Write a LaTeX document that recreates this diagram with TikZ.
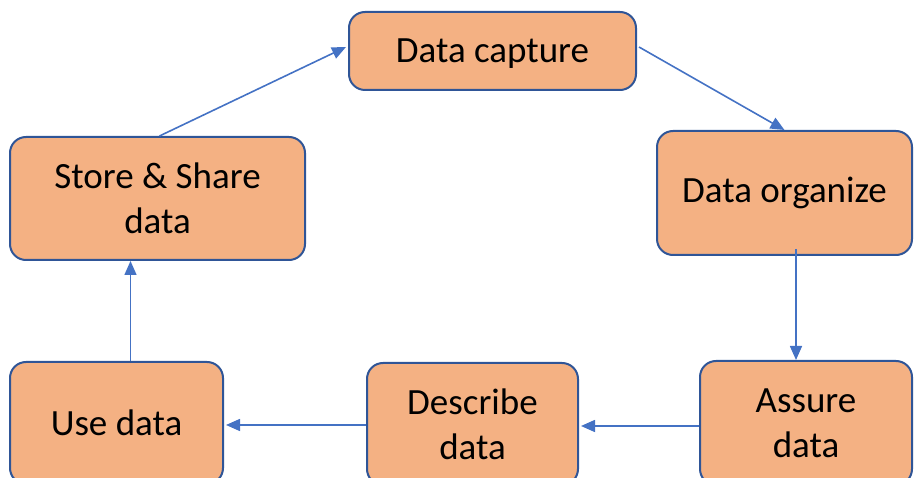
\documentclass[tikz,border=0pt]{standalone}
\usepackage{fontspec}
\setmainfont{Carlito}
\usetikzlibrary{arrows.meta}
\definecolor{boxfill}{HTML}{F4B183}
\definecolor{boxline}{HTML}{2F5597}
\definecolor{flow}{HTML}{4472C4}
\tikzset{
  stage/.style={draw=boxline, line width=2pt, fill=boxfill, rounded corners=16pt,
    inner sep=0pt, align=center, text=black,
    font=\fontsize{37}{45}\selectfont},
  flowarrow/.style={draw=flow, line width=1.6pt,
    -{Triangle[length=14pt,width=12pt]}}
}
\begin{document}
\begin{tikzpicture}[x=1pt,y=-1pt]
\useasboundingbox (0,0) rectangle (914,478);
\clip (0,0) rectangle (914,478);
% process stages
\node[stage, minimum width=287pt, minimum height=78pt, text depth=0pt] (capture) at (492.5,51) {Data capture};
\node[stage, minimum width=255pt, minimum height=124pt] (organize) at (784.5,193) {Data organize};
\node[stage, minimum width=212pt, minimum height=124pt] (assure) at (806,423) {Assure\\data};
\node[stage, minimum width=211pt, minimum height=122pt] (describe) at (472.5,424) {Describe\\data};
\node[stage, minimum width=213pt, minimum height=122pt] (use) at (116.5,423) {Use data};
\node[stage, minimum width=295pt, minimum height=123pt] (store) at (157.5,198.5) {Store \& Share\\data};
% connectors
\draw[flowarrow] ([xshift=2pt]store.north) -- ([yshift=4pt,xshift=-2pt]capture.west);
\draw[flowarrow] ([yshift=4pt,xshift=2pt]capture.east) -- (organize.north);
\coordinate (orgout) at ([xshift=11.5pt,yshift=7pt]organize.south);
\draw[flowarrow] (orgout) -- (orgout |- assure.north);
\coordinate (assout) at ([yshift=-3pt]assure.west);
\draw[flowarrow] (assout) -- ([xshift=2pt]assout -| describe.east);
\coordinate (descout) at ([yshift=-1pt]describe.west);
\draw[flowarrow] (descout) -- ([xshift=2pt]descout -| use.east);
\coordinate (useout) at ([xshift=14pt]use.north);
\draw[flowarrow] (useout) -- (useout |- store.south);
\end{tikzpicture}
\end{document}
